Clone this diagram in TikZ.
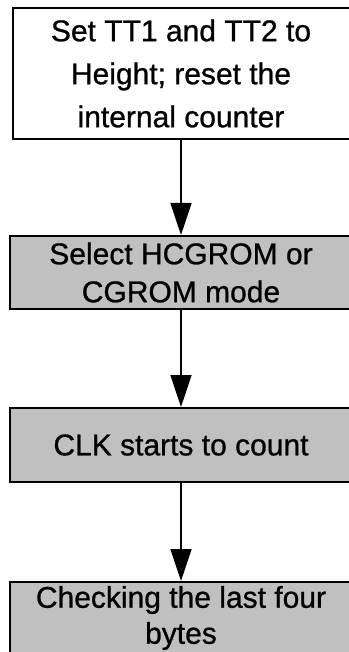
\documentclass[tikz,border=0pt]{standalone}
\usepackage{fontspec}
\setmainfont{Liberation Sans}[FakeBold=0.8]
\usetikzlibrary{arrows.meta}
\definecolor{boxgray}{RGB}{192,192,192}
\tikzset{
	flowbox/.style={draw=black, line width=2pt, inner sep=0pt, align=center, minimum width=340pt},
	whitebox/.style={flowbox, fill=white, font=\fontsize{30}{43}\selectfont},
	graybox/.style={flowbox, fill=boxgray, font=\fontsize{30}{38}\selectfont},
	flowarrow/.style={line width=1.8pt, -{Triangle[width=21pt,length=32pt]}}
}
\begin{document}
\begin{tikzpicture}[x=1pt,y=-1pt]
		% Page frame
		\useasboundingbox (0,0) rectangle (348,652);
		
		% Draw steps
		\node[whitebox, minimum width=337pt, minimum height=131pt] (init) at (181,73.5) {Set TT1 and TT2 to\\Height; reset the\\internal counter};
		\node[graybox, minimum width=343pt, minimum height=73pt] (mode) at (181,272.5) {Select HCGROM or\\CGROM mode};
		\node[graybox, minimum width=343pt, minimum height=74pt] (count) at (181,445) {CLK starts to count};
		\node[graybox, minimum width=343pt, anchor=north, inner ysep=4pt, text depth=70pt, font=\fontsize{30}{36}\selectfont] (check) at (181,581) {Checking the last four\\bytes};
		
		% Draw arrows
		\draw[flowarrow] (init) -- (mode);
		\draw[flowarrow] (mode) -- (count);
		\draw[flowarrow] (count) -- (check);
		
	\end{tikzpicture}
\end{document}
